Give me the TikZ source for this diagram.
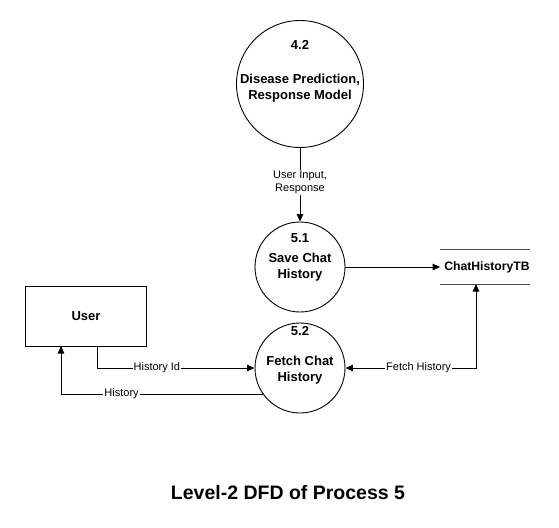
\documentclass[tikz,border=0pt]{standalone}
\usepackage{fontspec}
\setmainfont{Liberation Sans}
\usetikzlibrary{arrows.meta,calc}
\begin{document}
\begin{tikzpicture}[x=1pt,y=-1pt,
  proc/.style={circle,draw,line width=0.9pt,minimum size=#1,inner sep=0pt},
  ptxt/.style={font=\fontsize{13}{16}\selectfont\bfseries,align=center},
  ent/.style={rectangle,draw,line width=0.9pt,minimum width=121pt,minimum height=60pt,font=\fontsize{13}{16}\selectfont\bfseries},
  flow/.style={line width=0.9pt,-{Triangle[length=7.5pt,width=6.5pt]}},
  lbl/.style={fill=white,inner sep=1pt,font=\fontsize{11}{13.5}\selectfont,align=center}]
\useasboundingbox (0,0) rectangle (559,527);
\fill[white] (0,0) rectangle (559,527);
\node[proc=127pt] (p42) at (300,84) {};
\node[ptxt] (t42) at (300,45) {4.2};
\node[ptxt] (n42) at (300,88) {Disease Prediction,\\Response Model};
\node[proc=90pt] (p51) at (300,267) {};
\node[ptxt] (t51) at (300,238) {5.1};
\node[ptxt] (n51) at (300,267) {Save Chat\\History};
\node[proc=90pt] (p52) at (300,368) {};
\node[ptxt] (t52) at (300,331) {5.2};
\node[ptxt] (n52) at (300,370) {Fetch Chat\\History};
\node[ent] (user) at (86,316) {User};
\node[inner sep=0pt,minimum width=89pt,minimum height=34pt,font=\fontsize{12.2}{15}\selectfont\bfseries] (db) at (485,267) {\hspace*{4pt}ChatHistoryTB};
\draw[line width=0.9pt,black!70] (db.north west) -- (db.north east);
\draw[line width=0.9pt,black!70] (db.south west) -- (db.south east);
% flows
\draw[flow] (p42.south) -- node[lbl,pos=0.47] {User Input,\\Response} (p51.north);
\draw[flow] (p51.east) -- (db.west);
\coordinate (u1) at (97,346);
\draw[flow] (u1) |- node[lbl,pos=0.69] {History Id} (p52.west);
\coordinate (c1) at ($(p52.center)+(-37,26)$);
\coordinate (u2) at (61,346);
\draw[flow] (c1) -| node[lbl,pos=0.35] {History} (u2);
\coordinate (d1) at (476,284);
\draw[line width=0.9pt,{Triangle[length=7.5pt,width=6.5pt]}-{Triangle[length=7.5pt,width=6.5pt]}] (p52.east) -| node[lbl,pos=0.28] {Fetch History} (d1);
\node[font=\fontsize{19.5}{23}\selectfont\bfseries] (title) at (288,493) {Level-2 DFD of Process 5};
\end{tikzpicture}
\end{document}
